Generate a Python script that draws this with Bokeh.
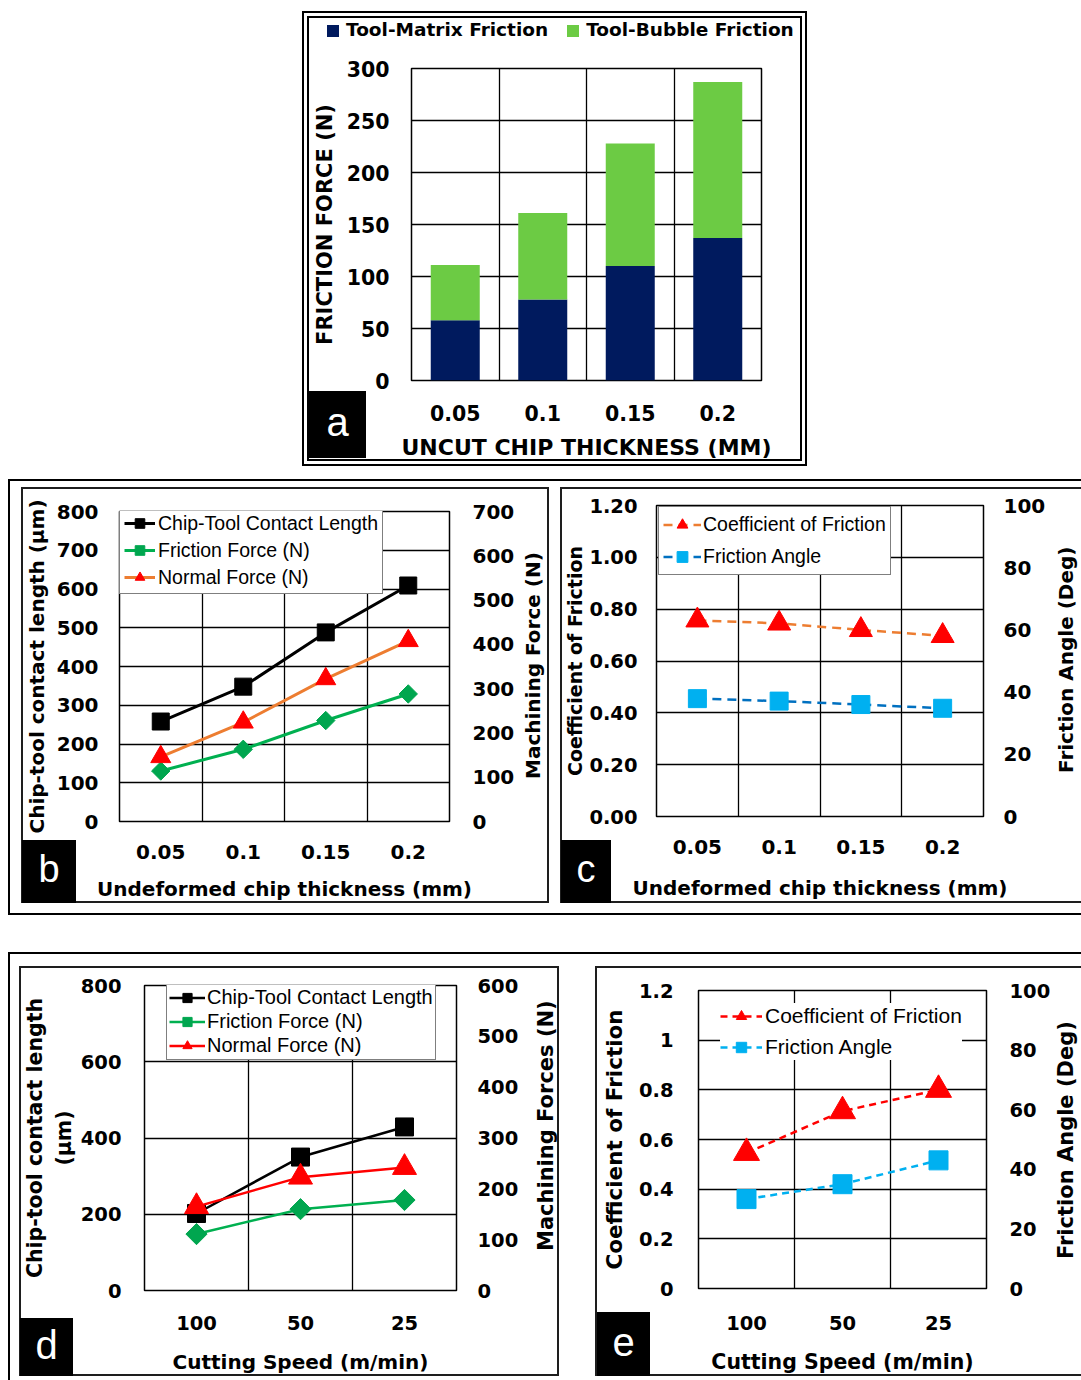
import math
from bokeh.plotting import figure
from bokeh.models import (Range1d, LinearAxis, FixedTicker, NumeralTickFormatter, Legend,
                          LegendItem, Spacer, ColumnDataSource, Div, GridBox)
from bokeh.layouts import row, column
from bokeh.embed import file_html
from bokeh.resources import INLINE

# ---------------- data ----------------
thickness = ["0.05", "0.1", "0.15", "0.2"]
series_a = ["Tool-Matrix Friction", "Tool-Bubble Friction"]
tool_matrix = [58, 78, 110, 137]
tool_bubble = [53, 83, 118, 150]

contact_length_b = [258, 348, 488, 609]
friction_force_b = [114, 163, 228, 288]
normal_force_b = [146, 224, 322, 408]

cof_c = [0.757, 0.745, 0.72, 0.697]
angle_c = [37.9, 37.1, 36.0, 34.8]

speed = ["100", "50", "25"]
contact_length_d = [202, 350, 429]
friction_force_d = [111, 160, 178]
normal_force_d = [165, 223, 242]

cof_e = [0.546, 0.714, 0.80]
angle_e = [30.0, 35.0, 43.0]

ticks_a = [0, 50, 100, 150, 200, 250, 300]
ticks_b_left = [0, 100, 200, 300, 400, 500, 600, 700, 800]
ticks_b_right = [0, 100, 200, 300, 400, 500, 600, 700]
ticks_cof = [0, 0.2, 0.4, 0.6, 0.8, 1.0, 1.2]
ticks_angle = [0, 20, 40, 60, 80, 100]
ticks_d_left = [0, 200, 400, 600, 800]
ticks_d_right = [0, 100, 200, 300, 400, 500, 600]

BOLD = "DejaVu Sans"
REG = "Liberation Sans"
COL_A = ["#001A5E", "#6CCB44"]


def base_fig(w, h, ml, mr, mt, mb, ncat, cats, y0, y1, shadow):
    p = figure(width=w, height=h, x_range=Range1d(0.5, ncat + 0.5), y_range=Range1d(y0, y1),
               output_backend="svg", toolbar_location=None,
               min_border_left=ml, min_border_right=mr, min_border_top=mt, min_border_bottom=mb,
               styles={"box-shadow": shadow})
    p.outline_line_color = "black"
    p.outline_line_width = 1.5
    p.background_fill_color = "white"
    p.border_fill_color = None
    p.xaxis.ticker = FixedTicker(ticks=list(range(1, ncat + 1)))
    p.xaxis.major_label_overrides = {i + 1: c for i, c in enumerate(cats)}
    p.xgrid.ticker = FixedTicker(ticks=[i + 1.5 for i in range(ncat - 1)])
    p.xgrid.grid_line_color = "black"
    p.xgrid.grid_line_width = 1.3
    p.ygrid.grid_line_color = "black"
    p.ygrid.grid_line_width = 1.3
    return p


def style_axis(ax, size, standoff, label_size=None, label_standoff=0):
    ax.axis_line_color = None
    ax.major_tick_line_color = None
    ax.minor_tick_line_color = None
    ax.major_tick_out = 0
    ax.major_tick_in = 0
    ax.major_label_text_font = BOLD
    ax.major_label_text_font_style = "bold"
    ax.major_label_text_font_size = size
    ax.major_label_text_color = "black"
    ax.major_label_standoff = standoff
    ax.axis_label_text_font = BOLD
    ax.axis_label_text_font_style = "bold"
    if label_size:
        ax.axis_label_text_font_size = label_size
    ax.axis_label_standoff = label_standoff
    ax.axis_label_text_color = "black"


def right_axis(p, name, lo, hi, ticks, size, standoff):
    p.extra_y_ranges = {name: Range1d(lo, hi)}
    ax = LinearAxis(y_range_name=name, ticker=FixedTicker(ticks=ticks))
    style_axis(ax, size, standoff)
    p.add_layout(ax, "right")
    return ax


def legend(p, items, loc, pad, spacing, gw, gh, standoff, font, fsize, border=True):
    lg = Legend(items=items, location=loc, orientation="vertical", padding=pad, spacing=spacing,
                margin=0, glyph_width=gw, glyph_height=gh, label_height=gh,
                label_standoff=standoff, label_text_font=font, label_text_font_size=fsize,
                label_text_color="black",
                border_line_color="black" if border else None, border_line_width=1,
                background_fill_color="white", background_fill_alpha=1.0)
    p.add_layout(lg)
    return lg


def letter_div(txt, left, top, w, h, fsize):
    return Div(text=txt, width=w, height=h, margin=(top, 0, 0, left),
               styles={"background-color": "black", "color": "white", "font-family": REG,
                       "font-size": fsize, "text-align": "center", "line-height": f"{h - 4}px",
                       "z-index": "5"})


def vlabel(txt, cx, cy, length, fsize):
    # right-hand axis title, reading bottom-to-top
    return Div(text=txt, width=26, height=length,
               margin=(int(cy - length / 2), 0, 0, int(cx - 13)),
               styles={"writing-mode": "vertical-rl", "transform": "rotate(180deg)",
                       "font-family": BOLD, "font-weight": "bold", "font-size": fsize,
                       "line-height": "26px", "text-align": "center", "white-space": "nowrap",
                       "color": "black", "z-index": "5"})


def overlay(p, *divs):
    return GridBox(children=[(p, 0, 0)] + [(d, 0, 0) for d in divs], spacing=0)


FULL_IN = "inset 0 0 0 2px #1e1e1e"
OPEN_IN = "inset 2px 2px 0 0 #1e1e1e, inset 0 -2px 0 0 #1e1e1e"

# ---------------- panel a ----------------
pa = base_fig(505, 455, 109, 46, 57, 86, len(thickness), thickness, 0, 300,
              "inset 0 0 0 2px #000, inset 0 0 0 5px #fff, inset 0 0 0 7px #000")
pa.yaxis.ticker = FixedTicker(ticks=ticks_a)
pa.yaxis.axis_label = "FRICTION FORCE (N)"
pa.xaxis.axis_label = "UNCUT CHIP THICKNESS (MM)"
style_axis(pa.yaxis[0], "20.5px", 22, "21px", 7)
style_axis(pa.xaxis[0], "20.5px", 24, "22px", 11)
src_a = ColumnDataSource(dict(x=list(range(1, len(thickness) + 1)),
                              tool_matrix=tool_matrix, tool_bubble=tool_bubble))
bars = pa.vbar_stack(["tool_matrix", "tool_bubble"], x="x", width=0.56,
                     color=COL_A, line_color=None, source=src_a)
items_html = "".join(
    f'<span style="display:inline-block;width:12px;height:12px;background:{c};'
    f'margin-right:7px;vertical-align:-1px"></span>'
    f'<span style="margin-right:19px">{name}</span>'
    for name, c in zip(series_a, COL_A))
legend_a = Div(text=f'<div style="white-space:nowrap">{items_html}</div>', width=478, height=22,
               margin=(8, 0, 0, 25),
               styles={"font-family": BOLD, "font-weight": "bold", "font-size": "18.5px",
                       "color": "black", "line-height": "22px", "z-index": "5"})
grid_a = overlay(pa, letter_div("a", 7, 380, 57, 67, "40px"), legend_a)

# ---------------- panel b ----------------
xb = list(range(1, len(thickness) + 1))
pb = base_fig(528, 416, 97, 100, 24, 81, len(thickness), thickness, 0, 800, FULL_IN)
pb.yaxis.ticker = FixedTicker(ticks=ticks_b_left)
pb.yaxis.axis_label = "Chip-tool contact length (µm)"
pb.xaxis.axis_label = "Undeformed chip thickness (mm)"
style_axis(pb.yaxis[0], "20px", 21, "20px", 5)
style_axis(pb.xaxis[0], "20px", 23, "20px", 15)
right_axis(pb, "force", 0, 700, ticks_b_right, "20px", 23)
lb1 = pb.line(xb, contact_length_b, line_color="black", line_width=3)
sb1 = pb.scatter(xb, contact_length_b, marker="square", size=17, fill_color="black", line_color="black")
lb2 = pb.line(xb, friction_force_b, line_color="#00B050", line_width=3, y_range_name="force")
sb2 = pb.scatter(xb, friction_force_b, marker="square", angle=math.pi / 4, size=13,
                 fill_color="#00A64F", line_color="#00A64F", y_range_name="force")
lb3 = pb.line(xb, normal_force_b, line_color="#ED7D31", line_width=3, y_range_name="force")
sb3 = pb.scatter(xb, normal_force_b, marker="triangle", size=20, fill_color="#FF0000",
                 line_color="#FF0000", y_range_name="force")
legend(pb, [LegendItem(label="Chip-Tool Contact Length", renderers=[lb1, sb1]),
            LegendItem(label="Friction Force (N)", renderers=[lb2, sb2]),
            LegendItem(label="Normal Force (N)", renderers=[lb3, sb3])],
       (0, 227), 4, 3, 31, 24, 3, REG, "19.5px")
grid_b = overlay(pb, letter_div("b", 1, 353, 54, 63, "38px"),
                 vlabel("Machining Force (N)", 512, 179, 240, "20px"))

# ---------------- panel c ----------------
pc = base_fig(521, 416, 96, 98, 18, 87, len(thickness), thickness, 0, 1.2, OPEN_IN)
pc.yaxis.ticker = FixedTicker(ticks=ticks_cof)
pc.yaxis.formatter = NumeralTickFormatter(format="0.00")
pc.yaxis.axis_label = "Coefficient of Friction"
pc.xaxis.axis_label = "Undeformed chip thickness (mm)"
style_axis(pc.yaxis[0], "19.5px", 19, "19px", 0)
style_axis(pc.xaxis[0], "20px", 23, "20px", 19)
right_axis(pc, "angle", 0, 100, ticks_angle, "20px", 20)
lc1 = pc.line(xb, cof_c, line_color="#ED7D31", line_width=2.5, line_dash="9 6")
sc1 = pc.scatter(xb, cof_c, marker="triangle", size=23, fill_color="#FF0000", line_color="#FF0000")
lc2 = pc.line(xb, angle_c, line_color="#0070C0", line_width=2.5, line_dash="9 6", y_range_name="angle")
sc2 = pc.scatter(xb, angle_c, marker="square", size=18, fill_color="#00B0F0", line_color="#00B0F0",
                 y_range_name="angle")
legend(pc, [LegendItem(label="Coefficient of Friction", renderers=[lc1, sc1]),
            LegendItem(label="Friction Angle", renderers=[lc2, sc2])],
       (2, 241), 4, 5, 38, 27, 2, REG, "19.5px")
grid_c = overlay(pc, letter_div("c", 1, 353, 50, 63, "38px"),
                 vlabel("Friction Angle (Deg)", 506, 173, 240, "20px"))

# ---------------- panel d ----------------
xd = list(range(1, len(speed) + 1))
pd_ = base_fig(540, 410, 125, 103, 19, 86, len(speed), speed, 0, 800, FULL_IN)
pd_.yaxis.ticker = FixedTicker(ticks=ticks_d_left)
pd_.yaxis.axis_label = "Chip-tool contact length\n(µm)"
pd_.xaxis.axis_label = "Cutting Speed (m/min)"
style_axis(pd_.yaxis[0], "19.5px", 23, "20.5px", 2)
style_axis(pd_.xaxis[0], "19.5px", 25, "20px", 17)
right_axis(pd_, "force", 0, 600, ticks_d_right, "19.5px", 21)
ld1 = pd_.line(xd, contact_length_d, line_color="black", line_width=2.5)
sd1 = pd_.scatter(xd, contact_length_d, marker="square", size=18, fill_color="black", line_color="black")
ld2 = pd_.line(xd, friction_force_d, line_color="#00B050", line_width=2.5, y_range_name="force")
sd2 = pd_.scatter(xd, friction_force_d, marker="square", angle=math.pi / 4, size=15,
                  fill_color="#00A64F", line_color="#00A64F", y_range_name="force")
ld3 = pd_.line(xd, normal_force_d, line_color="#FF0000", line_width=2.5, y_range_name="force")
sd3 = pd_.scatter(xd, normal_force_d, marker="triangle", size=24, fill_color="#FF0000",
                  line_color="#FF0000", y_range_name="force")
legend(pd_, [LegendItem(label="Chip-Tool Contact Length", renderers=[ld1, sd1]),
             LegendItem(label="Friction Force (N)", renderers=[ld2, sd2]),
             LegendItem(label="Normal Force (N)", renderers=[ld3, sd3])],
       (22, 230), 2, 1, 36, 23, 2, REG, "20px")
grid_d = overlay(pd_, letter_div("d", 1, 352, 53, 58, "40px"),
                 vlabel("Machining Forces (N)", 527, 160, 264, "21px"))

# ---------------- panel e ----------------
pe = base_fig(486, 410, 103, 95, 24, 88, len(speed), speed, 0, 1.2, OPEN_IN)
pe.yaxis.ticker = FixedTicker(ticks=ticks_cof)
pe.yaxis.formatter = NumeralTickFormatter(format="0.[0]")
pe.yaxis.axis_label = "Coefficient of Friction"
pe.xaxis.axis_label = "Cutting Speed (m/min)"
style_axis(pe.yaxis[0], "19.5px", 25, "21.5px", 9)
style_axis(pe.xaxis[0], "19.5px", 27, "20.5px", 17)
right_axis(pe, "angle", 0, 100, ticks_angle, "19.5px", 23)
le1 = pe.line(xd, cof_e, line_color="#FF0000", line_width=2.5, line_dash="7 5")
se1 = pe.scatter(xd, cof_e, marker="triangle", size=26, fill_color="#FF0000", line_color="#FF0000")
le2 = pe.line(xd, angle_e, line_color="#00B0F0", line_width=2.5, line_dash="7 5", y_range_name="angle")
se2 = pe.scatter(xd, angle_e, marker="square", size=19, fill_color="#00B0F0", line_color="#00B0F0",
                 y_range_name="angle")
legend(pe, [LegendItem(label="Coefficient of Friction", renderers=[le1, se1]),
            LegendItem(label="Friction Angle", renderers=[le2, se2])],
       (22, 228), 3, 5, 42, 26, 3, REG, "21px", border=False)
grid_e = overlay(pe, letter_div("e", 2, 346, 53, 64, "40px"),
                 vlabel("Friction Angle (Deg)", 471, 174, 260, "21px"))

bc = column(Spacer(height=8),
            row(Spacer(width=13, height=416), grid_b, Spacer(width=11, height=416), grid_c),
            Spacer(height=12),
            styles={"box-shadow": "inset 2px 2px 0 0 #000, inset 0 -2px 0 0 #000"})
de = column(Spacer(height=14),
            row(Spacer(width=11, height=410), grid_d, Spacer(width=36, height=410), grid_e),
            Spacer(height=4),
            styles={"box-shadow": "inset 2px 2px 0 0 #000"})

layout = column(
    Spacer(height=11),
    row(Spacer(width=302, height=455), grid_a),
    Spacer(height=13),
    row(Spacer(width=8, height=436), bc),
    Spacer(height=37),
    row(Spacer(width=8, height=428), de),
)

open("out.html", "w").write(file_html(layout, INLINE))
